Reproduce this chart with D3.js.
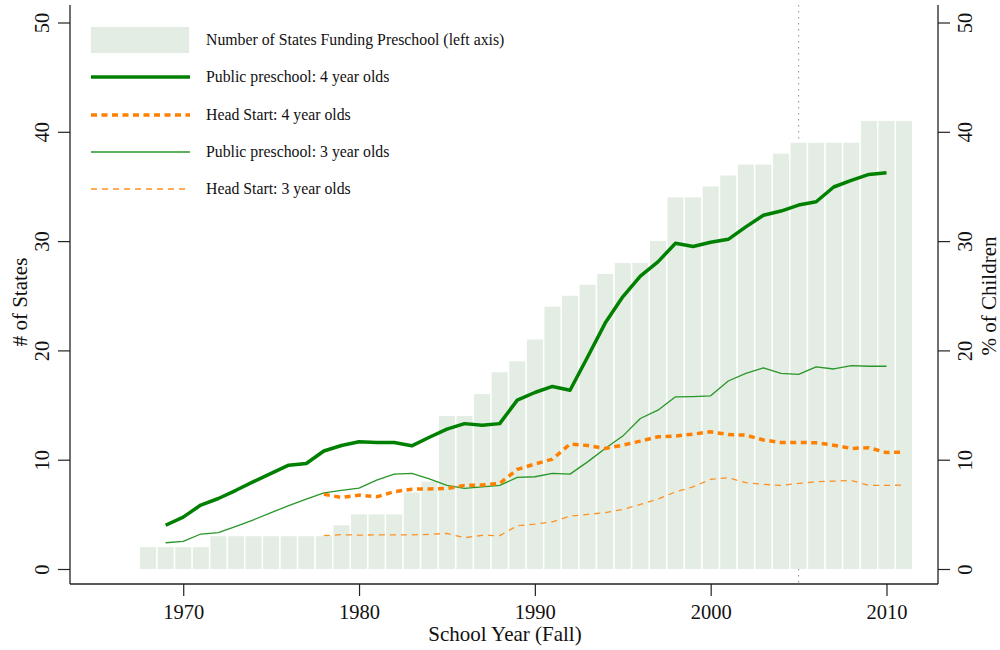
<!DOCTYPE html>
<html>
<head>
<meta charset="utf-8">
<script src="https://cdn.jsdelivr.net/npm/d3@7"></script>
<style>
  body { margin: 0; background: #fff; }
  svg { font-family: "Liberation Serif", "Times New Roman", serif; }
</style>
</head>
<body>
<div id="viz"></div>
<script>
// number of states funding preschool (bars, left axis)
const barYears = [1968, 1969, 1970, 1971, 1972, 1973, 1974, 1975, 1976, 1977, 1978, 1979, 1980, 1981, 1982, 1983, 1984, 1985, 1986, 1987, 1988, 1989, 1990, 1991, 1992, 1993, 1994, 1995, 1996, 1997, 1998, 1999, 2000, 2001, 2002, 2003, 2004, 2005, 2006, 2007, 2008, 2009, 2010, 2011];
const stateCounts = [2, 2, 2, 2, 3, 3, 3, 3, 3, 3, 3, 4, 5, 5, 5, 7, 8, 14, 14, 16, 18, 19, 21, 24, 25, 26, 27, 28, 28, 30, 34, 34, 35, 36, 37, 37, 38, 39, 39, 39, 39, 41, 41, 41];

// public preschool enrollment, % of children
const pubYears = [1969, 1970, 1971, 1972, 1973, 1974, 1975, 1976, 1977, 1978, 1979, 1980, 1981, 1982, 1983, 1984, 1985, 1986, 1987, 1988, 1989, 1990, 1991, 1992, 1993, 1994, 1995, 1996, 1997, 1998, 1999, 2000, 2001, 2002, 2003, 2004, 2005, 2006, 2007, 2008, 2009, 2010];
const pub4 = [4.0, 4.75, 5.85, 6.45, 7.2, 8.0, 8.75, 9.5, 9.65, 10.8, 11.3, 11.64, 11.58, 11.58, 11.27, 12.05, 12.8, 13.3, 13.15, 13.3, 15.45, 16.15, 16.7, 16.35, 19.4, 22.5, 24.9, 26.8, 28.1, 29.8, 29.5, 29.9, 30.16, 31.3, 32.36, 32.75, 33.3, 33.6, 34.95, 35.56, 36.1, 36.26];
const pub3 = [2.4, 2.53, 3.2, 3.32, 3.9, 4.5, 5.15, 5.8, 6.4, 6.97, 7.2, 7.4, 8.13, 8.68, 8.74, 8.25, 7.65, 7.37, 7.52, 7.65, 8.38, 8.44, 8.74, 8.68, 9.8, 11.03, 12.16, 13.77, 14.53, 15.75, 15.78, 15.84, 17.2, 17.9, 18.4, 17.9, 17.8, 18.5, 18.3, 18.6, 18.55, 18.55];

// head start enrollment, % of children
const hsYears = [1978, 1979, 1980, 1981, 1982, 1983, 1984, 1985, 1986, 1987, 1988, 1989, 1990, 1991, 1992, 1993, 1994, 1995, 1996, 1997, 1998, 1999, 2000, 2001, 2002, 2003, 2004, 2005, 2006, 2007, 2008, 2009, 2010, 2011];
const hs4 = [6.83, 6.55, 6.76, 6.6, 7.07, 7.3, 7.33, 7.37, 7.65, 7.68, 7.83, 9.11, 9.6, 10.05, 11.43, 11.3, 11.03, 11.33, 11.7, 12.1, 12.16, 12.34, 12.55, 12.3, 12.25, 11.8, 11.58, 11.58, 11.55, 11.33, 11.03, 11.1, 10.65, 10.7];
const hs3 = [3.05, 3.14, 3.1, 3.12, 3.12, 3.12, 3.17, 3.26, 2.86, 3.08, 3.05, 3.96, 4.11, 4.32, 4.84, 5.0, 5.15, 5.45, 5.91, 6.4, 7.05, 7.52, 8.2, 8.35, 7.9, 7.74, 7.65, 7.83, 7.98, 8.04, 8.1, 7.65, 7.65, 7.68];

const xTicks = [1970, 1980, 1990, 2000, 2010];
const yTicks = [0, 10, 20, 30, 40, 50];
const markerYear = 2005;

const legendItems = [
  { label: "Number of States Funding Preschool (left axis)", type: "bar" },
  { label: "Public preschool: 4 year olds", color: "#008000", width: 3.5, dash: null },
  { label: "Head Start: 4 year olds", color: "#ff8000", width: 3.5, dash: "6,4.5" },
  { label: "Public preschool: 3 year olds", color: "#289628", width: 1.3, dash: null },
  { label: "Head Start: 3 year olds", color: "#ff9020", width: 1.3, dash: "6,5" }
];

const width = 1000;
const height = 650;
const plotLeft = 70, plotRight = 938, plotTop = 5, plotBottom = 584;
const barFill = "#e3ede3";

const svg = d3.select("#viz")
  .append("svg")
  .attr("width", width)
  .attr("height", height);

const x = d3.scaleLinear().domain([1963.56, 2012.93]).range([plotLeft, plotRight]);
const y = d3.scaleLinear().domain([0, 50]).range([569, 22.5]);

// dotted reference line at 2005, behind the bars
svg.append("line")
  .attr("x1", x(markerYear)).attr("x2", x(markerYear))
  .attr("y1", plotTop).attr("y2", plotBottom)
  .attr("stroke", "#a0a0a0")
  .attr("stroke-width", 1.2)
  .attr("stroke-dasharray", "1.5,4.5");

// bars
svg.selectAll(".bar")
  .data(barYears.map((d, i) => ({ year: d, value: stateCounts[i] })))
  .enter().append("rect")
  .attr("class", "bar")
  .attr("x", d => x(d.year - 0.455))
  .attr("width", d => x(d.year + 0.455) - x(d.year - 0.455))
  .attr("y", d => y(d.value))
  .attr("height", d => y(0) - y(d.value))
  .attr("fill", barFill);

// lines
const series = [
  { years: pubYears, values: pub3, style: legendItems[3] },
  { years: hsYears, values: hs3, style: legendItems[4] },
  { years: hsYears, values: hs4, style: legendItems[2] },
  { years: pubYears, values: pub4, style: legendItems[1] }
];

const line = d3.line()
  .x(d => x(d[0]))
  .y(d => y(d[1]));

series.forEach(s => {
  svg.append("path")
    .datum(s.years.map((yr, i) => [yr, s.values[i]]))
    .attr("fill", "none")
    .attr("stroke", s.style.color)
    .attr("stroke-width", s.style.width)
    .attr("stroke-linejoin", "round")
    .attr("stroke-dasharray", s.style.dash)
    .attr("d", line);
});

// axes
const axisColor = "#222";

const xAxis = svg.append("g")
  .attr("transform", `translate(0,${plotBottom})`)
  .call(d3.axisBottom(x).tickValues(xTicks).tickFormat(d3.format("d")).tickSize(12).tickPadding(8).tickSizeOuter(0));
xAxis.select(".domain").remove();
xAxis.selectAll("text").attr("font-size", 20.5).attr("font-family", "Liberation Serif").attr("fill", "#111");

const yAxisL = svg.append("g")
  .attr("transform", `translate(${plotLeft},0)`)
  .call(d3.axisLeft(y).tickValues(yTicks).tickSize(12).tickSizeOuter(0));
yAxisL.select(".domain").remove();
yAxisL.selectAll("text")
  .attr("x", 0).attr("dy", null).attr("y", -21)
  .attr("transform", "rotate(-90)")
  .attr("text-anchor", "middle")
  .attr("font-size", 20.5).attr("font-family", "Liberation Serif").attr("fill", "#111");

const yAxisR = svg.append("g")
  .attr("transform", `translate(${plotRight},0)`)
  .call(d3.axisRight(y).tickValues(yTicks).tickSize(12).tickSizeOuter(0));
yAxisR.select(".domain").remove();
yAxisR.selectAll("text")
  .attr("x", 0).attr("dy", null).attr("y", 34)
  .attr("transform", "rotate(-90)")
  .attr("text-anchor", "middle")
  .attr("font-size", 20.5).attr("font-family", "Liberation Serif").attr("fill", "#111");

svg.selectAll(".tick line").attr("stroke", axisColor).attr("stroke-width", 1.2);

// axis frame lines
svg.append("line").attr("x1", plotLeft).attr("x2", plotLeft).attr("y1", plotTop).attr("y2", plotBottom)
  .attr("stroke", axisColor).attr("stroke-width", 1.3);
svg.append("line").attr("x1", plotRight).attr("x2", plotRight).attr("y1", plotTop).attr("y2", plotBottom)
  .attr("stroke", axisColor).attr("stroke-width", 1.3);
svg.append("line").attr("x1", plotLeft).attr("x2", plotRight).attr("y1", plotBottom).attr("y2", plotBottom)
  .attr("stroke", axisColor).attr("stroke-width", 1.3);

// axis titles
svg.append("text")
  .attr("x", (plotLeft + plotRight) / 2 + 1).attr("y", 641)
  .attr("text-anchor", "middle")
  .attr("font-size", 21).attr("fill", "#111")
  .text("School Year (Fall)");

svg.append("text")
  .attr("transform", "translate(27,302) rotate(-90)")
  .attr("text-anchor", "middle")
  .attr("font-size", 21).attr("fill", "#111")
  .text("# of States");

svg.append("text")
  .attr("transform", "translate(996,296) rotate(-90)")
  .attr("text-anchor", "middle")
  .attr("font-size", 21).attr("fill", "#111")
  .text("% of Children");

// legend
const legendY = [40, 77, 115, 152, 189];
const legend = svg.append("g");
legendItems.forEach((item, i) => {
  const ly = legendY[i];
  if (item.type === "bar") {
    legend.append("rect")
      .attr("x", 91).attr("y", ly - 13)
      .attr("width", 98).attr("height", 26)
      .attr("fill", barFill);
  } else {
    legend.append("line")
      .attr("x1", 91).attr("x2", 190)
      .attr("y1", ly).attr("y2", ly)
      .attr("stroke", item.color)
      .attr("stroke-width", item.width)
      .attr("stroke-dasharray", item.dash);
  }
  legend.append("text")
    .attr("x", 206).attr("y", ly + 5)
    .attr("font-size", 15.8).attr("fill", "#111")
    .text(item.label);
});
</script>
</body>
</html>
